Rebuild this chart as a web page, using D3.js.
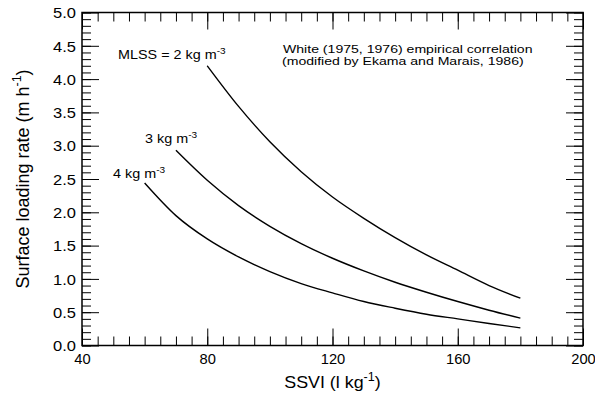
<!DOCTYPE html>
<html><head><meta charset="utf-8">
<script src="https://cdn.jsdelivr.net/npm/d3@7"></script>
<style>body{margin:0;background:#fff}svg{display:block}text{font-family:"Liberation Sans",Arial,sans-serif;fill:#000}</style>
</head><body><svg id="c" width="595" height="396"></svg>
<script>
// Data
const ssvi2 = [80, 90, 100, 110, 120, 130, 140, 150, 160, 170, 180];
const slr2  = [4.20, 3.59, 3.06, 2.61, 2.23, 1.91, 1.62, 1.36, 1.13, 0.90, 0.71];
const ssvi3 = [70, 80, 90, 100, 110, 120, 130, 140, 150, 160, 170, 180];
const slr3  = [2.93, 2.48, 2.10, 1.79, 1.53, 1.31, 1.12, 0.95, 0.80, 0.66, 0.53, 0.41];
const ssvi4 = [60, 70, 80, 90, 100, 110, 120, 130, 140, 150, 160, 170, 180];
const slr4  = [2.44, 1.95, 1.60, 1.33, 1.11, 0.93, 0.79, 0.66, 0.56, 0.47, 0.40, 0.33, 0.265];
const xMajor = [40, 80, 120, 160, 200];
const yMajor = [0, 0.5, 1, 1.5, 2, 2.5, 3, 3.5, 4, 4.5, 5];
const xMinor = d3.range(40, 201, 5);
const yMinor = d3.range(0, 51, 1).map(d => d / 10);

const svg = d3.select("#c");
const L = 82, R = 583, T = 12.5, B = 345.5;
const x = d3.scaleLinear().domain([40, 200]).range([L, R]);
const y = d3.scaleLinear().domain([0, 5]).range([B, T]);

function axis(gen, tr, vals, size, fmt) {
  const g = svg.append("g").attr("transform", tr)
    .call(gen.tickValues(vals).tickSize(size).tickSizeOuter(0).tickPadding(0).tickFormat(fmt));
  g.select(".domain").remove();
  g.selectAll(".tick line").attr("stroke", "#000").attr("stroke-width", 1);
  return g;
}
const none = () => "";
axis(d3.axisBottom(x), `translate(0,${B})`, xMinor, -9, none);
axis(d3.axisTop(x), `translate(0,${T})`, xMinor, -9, none);
axis(d3.axisLeft(y), `translate(${L},0)`, yMinor, -9, none);
axis(d3.axisRight(y), `translate(${R},0)`, yMinor, -9, none);
const gx = axis(d3.axisBottom(x), `translate(0,${B})`, xMajor, -17, d3.format("d"));
gx.selectAll("text").attr("x", 0).attr("y", 0).attr("dy", null)
  .attr("transform", "translate(0,18) scale(1.05,1)")
  .style("font-size", "14px");
axis(d3.axisTop(x), `translate(0,${T})`, xMajor, -17, none);
const gy = axis(d3.axisLeft(y), `translate(${L},0)`, yMajor, -17, d3.format(".1f"));
gy.selectAll("text").attr("x", 0).attr("dy", "0.35em")
  .attr("transform", "translate(-6,0) scale(1.1,1)").style("font-size", "15px");
axis(d3.axisRight(y), `translate(${R},0)`, yMajor, -17, none);

svg.selectAll("text").attr("font-family", "Liberation Sans, Arial, sans-serif").attr("fill", "#000");

// frame
svg.append("rect").attr("x", L).attr("y", T).attr("width", R - L).attr("height", B - T)
  .attr("fill", "none").attr("stroke", "#000").attr("stroke-width", 1.5);

// curves
const line = d3.line().x(d => x(d[0])).y(d => y(d[1])).curve(d3.curveMonotoneX);
[[ssvi2, slr2], [ssvi3, slr3], [ssvi4, slr4]].forEach(([xs, ys]) => {
  svg.append("path").datum(xs.map((v, i) => [v, ys[i]])).attr("d", line)
    .attr("fill", "none").attr("stroke", "#000").attr("stroke-width", 1.4);
});

// stretched text helper
function stext(px, py, size, sx, anchor) {
  return svg.append("text").attr("transform", `translate(${px},${py}) scale(${sx},1)`)
    .attr("text-anchor", anchor || "start").style("font-size", size + "px");
}
function supLabel(px, py, main, sup, size, sx) {
  const t = stext(px, py, size, sx);
  t.append("tspan").text(main);
  t.append("tspan").text(sup).attr("dy", -size * 0.4).style("font-size", (size * 0.7) + "px");
  return t;
}
supLabel(118, 58.5, "MLSS = 2 kg m", "-3", 12.5, 1.15);
supLabel(145, 142.5, "3 kg m", "-3", 12.5, 1.15);
supLabel(113, 177.5, "4 kg m", "-3", 12.5, 1.15);

stext(283, 53, 11, 1.28).text("White (1975, 1976) empirical correlation");
stext(282, 65, 11, 1.28).text("(modified by Ekama and Marais, 1986)");

// axis titles
const xt = stext((L + R) / 2, 388, 17, 1.05, "middle");
xt.append("tspan").text("SSVI (l kg");
xt.append("tspan").text("-1").attr("dy", -7).style("font-size", "12px");
xt.append("tspan").text(")").attr("dy", 7);

const yt = svg.append("text").attr("transform", `translate(28.5,${(T + B) / 2}) rotate(-90)`)
  .attr("text-anchor", "middle").style("font-size", "18px");
yt.append("tspan").text("Surface loading rate (m h");
yt.append("tspan").text("-1").attr("dy", -7.5).style("font-size", "12.5px");
yt.append("tspan").text(")").attr("dy", 7.5);
</script></body></html>
